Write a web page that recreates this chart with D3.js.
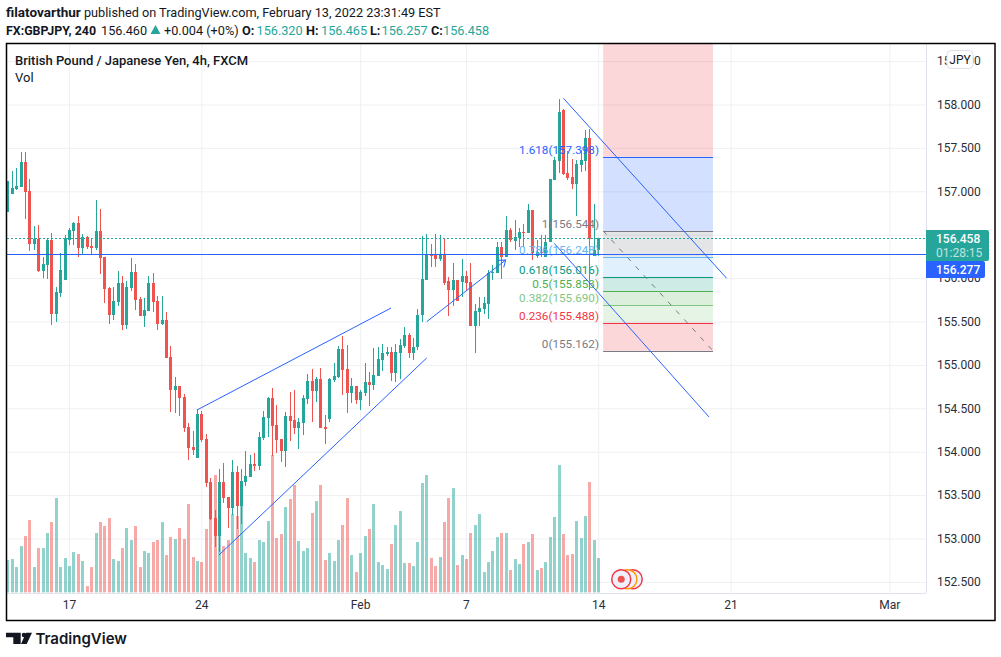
<!DOCTYPE html>
<html>
<head>
<meta charset="utf-8">
<script src="https://cdn.jsdelivr.net/npm/d3@7"></script>
<style>
  html, body { margin: 0; padding: 0; background: #fff; }
  svg { display: block; }
  text { font-family: Roboto, "Noto Sans", sans-serif; fill: #131722; }
  .axis path.domain { stroke: #e0e3eb; }
  .grid line { stroke: #eff0f3; }
  .grid path.domain { display: none; }
  .labels line { display: none; }
  .labels text { font-size: 12px; fill: #2a2e39; }
</style>
</head>
<body>
<svg id="chart" width="1001" height="657"></svg>
<script>
// Candles, one entry per 4h bar
const opens = [
  156.762,156.969,157.026,157.050,157.338,157.003,156.393,156.450,156.082,156.151,
  156.439,155.586,155.828,155.978,156.439,156.543,156.635,156.347,156.474,156.370,
  156.347,156.543,156.243,155.886,155.575,155.725,155.943,155.460,155.886,156.070,
  155.759,155.563,155.621,155.943,155.736,155.471,155.517,155.091,154.711,154.757,
  154.630,154.285,154.054,153.927,154.434,154.146,153.651,153.236,153.029,153.651,
  153.478,153.351,153.766,153.374,153.651,153.708,153.858,153.835,154.158,154.388,
  154.619,154.308,154.146,154.008,154.411,154.365,154.273,154.331,154.607,154.814,
  154.699,154.837,154.285,154.377,154.826,154.861,155.183,154.953,154.676,154.757,
  154.596,154.676,154.803,154.768,154.872,155.056,155.126,155.149,154.907,155.137,
  155.218,155.344,155.137,155.206,155.575,155.978,156.278,156.266,156.220,156.278,
  155.967,155.863,155.978,155.955,156.024,155.955,155.448,155.610,155.644,155.702,
  156.059,156.059,156.358,156.243,156.554,156.427,156.462,156.531,156.520,156.785,
  156.255,156.301,156.243,156.416,157.130,157.349,157.937,157.211,157.165,157.084,
  157.303,157.349,157.614,156.255,156.320
];
const highs = [
  157.119,157.234,157.268,157.453,157.453,157.142,156.600,156.612,156.243,156.450,
  156.520,155.897,156.289,156.497,156.577,156.646,156.715,156.508,156.485,156.462,
  156.900,156.796,156.243,155.897,155.897,156.082,156.024,155.967,156.232,156.162,
  155.782,155.771,156.024,156.059,155.794,155.794,155.610,155.218,154.861,154.757,
  154.665,154.331,154.238,154.492,154.469,154.204,153.697,153.328,153.801,153.870,
  153.478,153.904,153.835,153.801,154.008,153.962,153.985,154.227,154.469,154.630,
  154.734,154.538,154.146,154.457,154.688,154.711,154.388,154.653,154.895,154.953,
  154.861,154.964,154.423,154.849,155.022,155.218,155.333,155.229,154.849,154.757,
  154.711,155.022,154.918,155.195,155.206,155.241,155.206,155.206,155.241,155.298,
  155.437,155.367,155.310,155.644,156.485,156.508,156.393,156.508,156.497,156.450,
  156.013,156.174,155.978,156.220,156.082,156.174,155.702,155.782,155.782,156.093,
  156.151,156.416,156.416,156.715,156.577,156.669,156.577,156.623,156.854,156.785,
  156.439,156.497,156.497,157.142,157.395,158.063,157.948,157.464,157.372,157.361,
  157.476,157.706,157.718,156.854,156.465
];
const lows = [
  156.762,156.969,157.015,157.050,156.681,156.312,156.324,156.070,155.997,155.990,
  155.460,155.494,155.782,155.978,156.381,156.381,156.243,156.278,156.335,156.266,
  156.324,156.047,155.713,155.471,155.517,155.679,155.402,155.414,155.851,155.632,
  155.563,155.437,155.621,155.610,155.402,155.460,155.080,154.457,154.446,154.411,
  154.227,153.904,153.962,153.927,154.112,153.593,153.213,152.902,152.844,153.409,
  153.121,153.271,153.109,153.167,153.605,153.708,153.778,153.789,154.135,154.169,
  153.950,153.985,153.881,153.824,154.123,154.204,154.031,154.192,154.550,154.342,
  154.573,154.273,154.089,154.342,154.803,154.849,154.653,154.446,154.561,154.550,
  154.480,154.642,154.527,154.711,154.872,154.930,155.102,154.814,154.803,154.837,
  155.195,155.080,155.056,155.172,155.494,155.978,156.128,156.128,156.197,155.920,
  155.563,155.679,155.736,155.782,155.863,155.448,155.137,155.448,155.586,155.529,
  155.978,156.059,155.990,156.243,156.416,156.324,156.358,156.358,156.520,156.208,
  156.232,156.243,156.243,156.416,157.130,157.211,157.188,157.130,157.026,156.715,
  157.222,157.234,155.863,156.255,156.257
];
const closes = [
  157.119,157.038,157.061,157.338,156.992,156.393,156.450,156.082,156.162,156.439,
  155.586,155.840,156.093,156.462,156.554,156.635,156.347,156.474,156.358,156.347,
  156.543,156.232,155.874,155.575,155.736,155.943,155.460,155.897,156.070,155.748,
  155.563,155.632,155.943,155.725,155.471,155.517,155.080,154.711,154.757,154.619,
  154.273,154.043,154.020,154.434,154.135,153.639,153.225,153.029,153.651,153.467,
  153.351,153.766,153.374,153.662,153.720,153.858,153.835,154.169,154.400,154.619,
  154.296,154.135,154.008,154.411,154.354,154.273,154.342,154.619,154.814,154.699,
  154.837,154.273,154.262,154.837,154.872,155.183,154.941,154.676,154.757,154.596,
  154.688,154.803,154.768,154.884,155.068,155.137,155.149,154.907,155.149,155.229,
  155.344,155.137,155.206,155.575,155.990,156.278,156.255,156.220,156.266,155.943,
  155.863,155.978,155.736,156.024,155.943,155.448,155.621,155.655,155.713,156.059,
  156.070,156.358,156.243,156.554,156.439,156.474,156.531,156.520,156.785,156.289,
  156.301,156.289,156.416,157.142,157.361,157.914,157.199,157.153,157.084,157.315,
  157.361,157.614,156.450,156.324,156.458
];
const volumes = [
   97,100, 76,139,169,217, 76,133,133,178,
  211,283, 76,103, 79,121,115, 94, 19, 76,
  178,211,199,223,100, 94,133,193,157,199,
   76,124,118,151,157,211,112,166,160,193,
  160,265,106, 94, 91,190,277,352,172,139,
  157,235,229,259,118,103, 91,157,151,214,
  412,163,175,256,280,322,154,124,133,238,
  274,322, 97,118, 94,157,202,283,112, 61,
  118,169,190,265, 91, 82, 70,145,202,244,
   88, 88, 79,151,328,352,103, 79,106,211,
  283,313, 82,112,100,178,202,235, 61, 91,
  124,166,178,178, 67,100, 85,145,151,175,
   67, 73, 91,166,226,382,175,112,115,214,
  163,229,331,157,103
];

// Axis ticks
const priceTicks = [152.5,153,153.5,154,154.5,155,155.5,156,156.5,157,157.5,158,158.5];
const timeTickBars = [14,44,80,104,134,164,200];
const timeTickLabels = ["17","24","Feb","7","14","21","Mar"];

// Fibonacci retracement tool, top band runs off the chart
const fibRatios = ["2.618","1.618","1","0.786","0.618","0.5","0.382","0.236","0"];
const fibPrices = [158.780,157.398,156.544,156.248,156.016,155.853,155.690,155.488,155.162];
const fibColors = ["#f23645","#2962ff","#787b86","#64b5f6","#089981","#4caf50","#81c784","#f23645","#787b86"];
const fibBars = [135.1,160];

// Trend lines drawn on the chart: [bar, price, bar, price]
const trendLines = [
  [43,154.480,87,155.655],
  [48,152.810,95.1,155.080],
  [126.1,158.071,163.1,155.998],
  [124,156.401,159.1,154.400]
];
const arrowLine = [95.1,155.498,113,156.208];

const lastPrice = 156.458;
const lineToolPrice = 156.277;

// Event badges next to the last bar
const eventBars = [141.8,140.6,139.2];
const eventPrice = 152.53;
const eventColors = ["#f23645","#ff9800","#f23645"];

const GREEN = "#26a69a";
const RED = "#ef5350";
const BLUE = "#2962ff";

const frame = { left: 7, top: 44, right: 926, bottom: 593 };
const plotWidth = frame.right - frame.left;
const plotHeight = frame.bottom - frame.top;

const xScale = d3.scaleLinear().domain([0, 208.3]).range([7.3, frame.right]);
const yScale = d3.scaleLinear().domain([152.5, 158]).range([581.9, 104.5]);
const volScale = d3.scaleLinear().domain([0, 397]).range([592.4, 460]);

const svg = d3.select("#chart");
const bars = d3.range(opens.length);
const isUp = (i) => closes[i] >= opens[i];
const barX = (i) => Math.round(xScale(i));

svg.append("defs").append("clipPath").attr("id", "plot-clip")
  .append("rect")
  .attr("x", frame.left).attr("y", frame.top)
  .attr("width", plotWidth).attr("height", plotHeight);

svg.select("defs").append("marker")
  .attr("id", "open-arrow")
  .attr("markerUnits", "userSpaceOnUse")
  .attr("markerWidth", 16).attr("markerHeight", 16)
  .attr("refX", 8).attr("refY", 8)
  .attr("orient", "auto")
  .append("path")
  .attr("d", "M2,3.5L8,8L2,12.5")
  .attr("fill", "none")
  .attr("stroke", BLUE);

// Grid
svg.append("g")
  .attr("class", "grid")
  .attr("transform", `translate(${frame.right},0)`)
  .call(d3.axisLeft(yScale).tickValues(priceTicks).tickSize(plotWidth).tickFormat(""));

svg.append("g")
  .attr("class", "grid")
  .attr("transform", `translate(0,${frame.bottom})`)
  .call(d3.axisTop(xScale).tickValues(timeTickBars).tickSize(plotHeight).tickFormat(""));

const plot = svg.append("g").attr("clip-path", "url(#plot-clip)");

// Volume sits behind the candles
plot.append("g")
  .selectAll("rect")
  .data(bars)
  .join("rect")
  .attr("x", (i) => barX(i) - 1)
  .attr("y", (i) => volScale(volumes[i]))
  .attr("width", 3)
  .attr("height", (i) => volScale(0) - volScale(volumes[i]))
  .attr("fill", (i) => (isUp(i) ? GREEN : RED))
  .attr("opacity", 0.5);

// Wicks
plot.append("g")
  .selectAll("rect")
  .data(bars)
  .join("rect")
  .attr("x", (i) => barX(i))
  .attr("y", (i) => yScale(highs[i]))
  .attr("width", 1)
  .attr("height", (i) => yScale(lows[i]) - yScale(highs[i]))
  .attr("fill", (i) => (isUp(i) ? GREEN : RED));

// Bodies
plot.append("g")
  .selectAll("rect")
  .data(bars)
  .join("rect")
  .attr("x", (i) => barX(i) - 1)
  .attr("y", (i) => Math.round(yScale(Math.max(opens[i], closes[i]))))
  .attr("width", 3)
  .attr("height", (i) =>
    Math.max(1, Math.round(Math.abs(yScale(opens[i]) - yScale(closes[i]))))
  )
  .attr("fill", (i) => (isUp(i) ? GREEN : RED));

// Fib bands and levels
const fibLeft = xScale(fibBars[0]);
const fibRight = xScale(fibBars[1]);

plot.append("g")
  .selectAll("rect")
  .data(d3.range(fibPrices.length - 1))
  .join("rect")
  .attr("x", fibLeft)
  .attr("y", (k) => yScale(fibPrices[k]))
  .attr("width", fibRight - fibLeft)
  .attr("height", (k) => yScale(fibPrices[k + 1]) - yScale(fibPrices[k]))
  .attr("fill", (k) => fibColors[k + 1 === 8 ? 7 : k])
  .attr("opacity", 0.2);

plot.append("g")
  .selectAll("line")
  .data(fibPrices.slice(1))
  .join("line")
  .attr("x1", fibLeft)
  .attr("x2", fibRight)
  .attr("y1", (d) => Math.round(yScale(d)) + 0.5)
  .attr("y2", (d) => Math.round(yScale(d)) + 0.5)
  .attr("stroke", (d, k) => fibColors[k + 1]);

plot.append("line")
  .attr("x1", fibLeft)
  .attr("y1", yScale(fibPrices[2]))
  .attr("x2", fibRight)
  .attr("y2", yScale(fibPrices[8]))
  .attr("stroke", "#787b86")
  .attr("stroke-dasharray", "5,7");

plot.append("g")
  .selectAll("text")
  .data(fibPrices.slice(1))
  .join("text")
  .attr("x", 599)
  .attr("y", (d) => yScale(d) - 3)
  .attr("text-anchor", "end")
  .style("font-size", "11.7px")
  .style("fill", (d, k) => fibColors[k + 1])
  .text((d, k) => `${fibRatios[k + 1]}(${d.toFixed(3)})`);

// Trend lines
plot.append("g")
  .selectAll("line")
  .data(trendLines)
  .join("line")
  .attr("x1", (d) => xScale(d[0]))
  .attr("y1", (d) => yScale(d[1]))
  .attr("x2", (d) => xScale(d[2]))
  .attr("y2", (d) => yScale(d[3]))
  .attr("stroke", BLUE);

plot.append("line")
  .attr("x1", xScale(arrowLine[0]))
  .attr("y1", yScale(arrowLine[1]))
  .attr("x2", xScale(arrowLine[2]))
  .attr("y2", yScale(arrowLine[3]))
  .attr("stroke", BLUE)
  .attr("marker-end", "url(#open-arrow)");

// Price lines
plot.append("line")
  .attr("x1", frame.left).attr("x2", frame.right)
  .attr("y1", Math.round(yScale(lastPrice)) + 0.5)
  .attr("y2", Math.round(yScale(lastPrice)) + 0.5)
  .attr("stroke", GREEN)
  .attr("stroke-dasharray", "2,2");

plot.append("line")
  .attr("x1", frame.left).attr("x2", frame.right)
  .attr("y1", Math.round(yScale(lineToolPrice)) + 0.5)
  .attr("y2", Math.round(yScale(lineToolPrice)) + 0.5)
  .attr("stroke", BLUE)
  .attr("stroke-width", 1.2);

// Event badges
const badges = plot.append("g")
  .selectAll("g")
  .data(eventBars)
  .join("g")
  .attr("transform", (d) => `translate(${xScale(d)},${yScale(eventPrice)})`);

badges.append("circle")
  .attr("r", 9.5)
  .attr("fill", "#eef1fb")
  .attr("stroke", (d, k) => eventColors[k])
  .attr("stroke-width", 1.5);

plot.append("circle")
  .attr("cx", xScale(eventBars[2]))
  .attr("cy", yScale(eventPrice))
  .attr("r", 3.5)
  .attr("fill", RED);

// Axes
const yAxisG = svg.append("g")
  .attr("class", "axis labels")
  .attr("transform", `translate(${frame.right},0)`)
  .call(d3.axisRight(yScale).tickValues(priceTicks).tickSize(0).tickPadding(11).tickFormat(d3.format(".3f")));
yAxisG.select(".domain")
  .attr("d", `M0.5,${frame.top}V${frame.bottom}`);

const xAxisG = svg.append("g")
  .attr("class", "axis labels")
  .attr("transform", `translate(0,${frame.bottom})`)
  .call(d3.axisBottom(xScale).tickValues(timeTickBars).tickSize(0).tickPadding(7)
    .tickFormat((d, k) => timeTickLabels[k]));
xAxisG.select(".domain")
  .attr("d", `M${frame.left},0.5H${frame.right}`);

// Price tags on the scale
svg.append("path")
  .attr("d", "M926,230H987a2,2 0 0 1 2,2V259a2,2 0 0 1 -2,2H926Z")
  .attr("fill", GREEN);
svg.append("path")
  .attr("d", "M926,261H983a2,2 0 0 1 2,2V276a2,2 0 0 1 -2,2H926Z")
  .attr("fill", BLUE);

svg.append("text").attr("x", 936).attr("y", 243)
  .style("font-size", "12px").style("font-weight", 500).style("fill", "#fff")
  .text(lastPrice.toFixed(3));
svg.append("text").attr("x", 936).attr("y", 257)
  .style("font-size", "12px").style("fill", "#fff").style("opacity", 0.7)
  .text("01:28:15");
svg.append("text").attr("x", 936).attr("y", 274)
  .style("font-size", "12px").style("font-weight", 500).style("fill", "#fff")
  .text(lineToolPrice.toFixed(3));

// Currency button over the top tick
svg.append("rect")
  .attr("x", 947).attr("y", 50.5)
  .attr("width", 26).attr("height", 18).attr("rx", 4)
  .attr("fill", "#fff")
  .attr("stroke", "#dcdfe8");
svg.append("text").attr("x", 960).attr("y", 64)
  .attr("text-anchor", "middle")
  .style("font-size", "12px")
  .text("JPY");

// Frame
svg.append("rect")
  .attr("x", 6.5).attr("y", 43.5)
  .attr("width", 988.5).attr("height", 577)
  .attr("fill", "none")
  .attr("stroke", "#000")
  .attr("stroke-width", 1.5);

// Chart legend
svg.append("text").attr("x", 15).attr("y", 65)
  .style("font-size", "13px").style("font-weight", 500)
  .text("British Pound / Japanese Yen, 4h, FXCM");
svg.append("text").attr("x", 15).attr("y", 82)
  .style("font-size", "13px")
  .text("Vol");

// Header
const headerTexts = [
  [6, 17, "filatovarthur", 700, "#131722", 13.5],
  [84, 17, "published on TradingView.com, February 13, 2022 23:31:49 EST", 400, "#131722", 12.7],
  [6, 34.5, "FX:GBPJPY, 240", 700, "#131722", 12.4],
  [101, 34.5, "156.460", 400, "#131722", 12.7],
  [164, 34.5, "+0.004 (+0%)", 400, "#131722", 12.7],
  [242, 34.5, "O:", 700, "#131722", 12.7],
  [256.5, 34.5, "156.320", 400, GREEN, 12.7],
  [306, 34.5, "H:", 700, "#131722", 12.7],
  [321, 34.5, "156.465", 400, GREEN, 12.7],
  [370, 34.5, "L:", 700, "#131722", 12.7],
  [381.5, 34.5, "156.257", 400, GREEN, 12.7],
  [431, 34.5, "C:", 700, "#131722", 12.7],
  [443, 34.5, "156.458", 400, GREEN, 12.7]
];

svg.append("g")
  .selectAll("text")
  .data(headerTexts)
  .join("text")
  .attr("x", (d) => d[0])
  .attr("y", (d) => d[1])
  .style("font-size", (d) => `${d[5]}px`)
  .style("font-weight", (d) => d[3])
  .style("fill", (d) => d[4])
  .text((d) => d[2]);

svg.append("path")
  .attr("d", "M150.5,34L155.5,25L160.5,34Z")
  .attr("fill", GREEN);

// Footer logo
svg.append("path")
  .attr("d", "M6,632.7H20.7V644H13.3V637.3H6ZM26,632.7H32L26.7,644H21Z")
  .attr("fill", "#131722");
svg.append("circle")
  .attr("cx", 24).attr("cy", 635).attr("r", 2.3)
  .attr("fill", "#131722");
svg.append("text").attr("x", 35.5).attr("y", 644)
  .style("font-family", "Inter, Roboto, sans-serif")
  .style("font-size", "15px")
  .style("font-weight", 600)
  .text("TradingView");
</script>
</body>
</html>
